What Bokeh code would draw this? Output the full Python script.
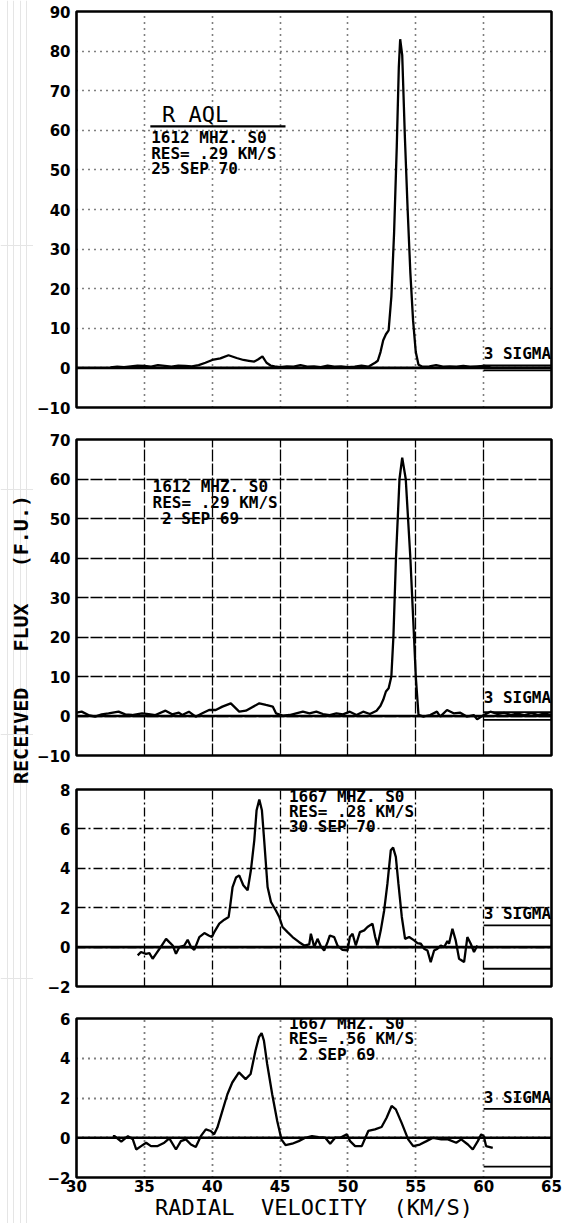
from math import pi
from bokeh.plotting import figure
from bokeh.layouts import row, column
from bokeh.models import Range1d, FixedTicker, Span, Label, Grid
from bokeh.embed import file_html
from bokeh.resources import INLINE

# ---------------- data ----------------
X_TICKS = [30, 35, 40, 45, 50, 55, 60, 65]
Y_TICKS_1 = [-10, 0, 10, 20, 30, 40, 50, 60, 70, 80, 90]
Y_TICKS_2 = [-10, 0, 10, 20, 30, 40, 50, 60, 70]
Y_TICKS_3 = [-2, 0, 2, 4, 6, 8]
Y_TICKS_4 = [-2, 0, 2, 4, 6]

# Panel 1: R AQL, 1612 MHz, 25 Sep 70
V1 = [32.5, 33.0, 33.5, 34.0, 34.5, 35.0, 35.5, 36.0, 36.5, 37.0, 37.5, 38.0, 38.5, 39.0,
      39.5, 40.0, 40.6, 41.2, 41.8, 42.3, 42.7, 43.1, 43.4, 43.7, 44.0, 44.3, 44.6, 45.0,
      45.5, 46.0, 46.5, 47.0, 47.5, 48.0, 48.5, 49.0, 49.5, 50.0, 50.5, 51.0, 51.5, 52.0,
      52.2, 52.4, 52.6, 52.8, 53.0, 53.2, 53.4, 53.6, 53.75, 53.85, 54.0, 54.2, 54.4, 54.6,
      54.8, 55.0, 55.2, 55.5, 56.0, 56.5, 57.0, 57.5, 58.0, 58.5, 59.0, 59.5, 60.0, 60.5]
F1 = [0.1, 0.3, 0.2, 0.4, 0.6, 0.5, 0.3, 0.7, 0.5, 0.3, 0.6, 0.5, 0.4, 0.7,
      1.3, 2.0, 2.4, 3.2, 2.5, 2.0, 1.8, 1.6, 2.2, 2.9, 1.3, 0.6, 0.4, 0.2,
      0.4, 0.3, 0.7, 0.3, 0.4, 0.2, 0.6, 0.3, 0.4, 0.2, 0.3, 0.6, 0.3, 1.3,
      1.8, 4.0, 7.0, 8.5, 9.5, 18.0, 34.0, 56.0, 76.0, 83.0, 79.0, 58.0, 40.0, 24.0,
      12.0, 4.0, 0.8, 0.3, 0.4, 0.7, 0.3, 0.4, 0.3, 0.5, 0.3, 0.4, 0.5, 0.3]

# Panel 2: 1612 MHz, 2 Sep 69
V2 = [30.0, 30.38, 30.88, 31.37, 31.86, 32.36, 33.1, 33.59, 34.09, 34.83, 35.32, 35.81,
      36.56, 37.05, 37.54, 37.79, 38.28, 38.78, 39.27, 39.77, 40.26, 40.75, 41.37, 41.99,
      42.48, 43.47, 43.96, 44.46, 44.7, 45.2, 45.7, 46.68, 47.17, 47.67, 48.16, 48.65,
      49.15, 49.64, 50.14, 50.63, 51.12, 51.62, 52.11, 52.4, 52.6, 52.8, 53.0, 53.2,
      53.35, 53.54, 53.8, 54.0, 54.26, 54.6, 54.87, 55.0, 55.2, 55.57, 56.06, 56.56,
      56.8, 57.3, 57.79, 58.28, 58.78, 59.27, 59.52, 60.01, 60.5, 61.0, 61.5, 62.0,
      62.5, 63.0, 63.5, 64.0, 64.5, 65.0]
F2 = [0.85, 1.1, 0.25, -0.17, 0.42, 0.68, 1.1, 0.42, 0.25, 0.68, 0.5, 0.25,
      1.35, 0.42, 0.85, 0.25, 1.1, -0.17, 0.68, 1.52, 1.52, 2.37, 3.2, 1.1,
      1.35, 3.2, 2.8, 2.4, 0.68, 0.08, 0.25, 1.1, 0.68, 1.1, 0.5, 0.25,
      0.68, 0.42, 1.1, 0.25, 1.1, 0.5, 1.35, 2.6, 4.1, 6.2, 7.0, 10.0,
      20.0, 40.0, 60.0, 65.4, 60.0, 40.0, 20.0, 10.0, 0.3, -0.17, 0.25, 1.1,
      -0.17, 1.52, 0.68, 0.85, -0.17, 0.25, -0.85, 0.25, 1.1, 0.5, 0.8, 0.3,
      0.6, 0.2, 0.7, 0.3, 0.6, 0.3]

# Panel 3: 1667 MHz, 30 Sep 70
V3 = [34.51, 34.75, 35.12, 35.37, 35.61, 35.86, 36.23, 36.60, 36.84,
      37.09, 37.33, 37.58, 37.94, 38.19, 38.44, 38.68, 39.05, 39.42, 39.74,
      39.98, 40.15, 40.52, 40.89, 41.21, 41.33, 41.50, 41.75, 41.99, 42.29,
      42.61, 42.85, 43.10, 43.27, 43.47, 43.66, 43.83, 44.08, 44.33, 44.69,
      44.94, 45.18, 45.55, 45.92, 46.41, 46.78, 47.15, 47.27, 47.52, 47.76,
      48.01, 48.25, 48.50, 48.67, 48.99, 49.23, 49.60, 49.97, 50.14, 50.34,
      50.58, 50.88, 51.20, 51.44, 51.81, 52.01, 52.18, 52.42, 52.67, 52.91,
      53.16, 53.33, 53.53, 53.72, 53.97, 54.21, 54.51, 54.88, 55.12, 55.37,
      55.61, 55.86, 56.10, 56.35, 56.60, 56.84, 57.09, 57.33, 57.45, 57.70,
      57.94, 58.19, 58.56, 58.80, 59.05, 59.29, 59.54]
F3 = [-0.42, -0.25, -0.34, -0.31, -0.59, -0.34, 0.03, 0.42, 0.25,
      0.08, -0.34, 0.0, 0.08, 0.37, 0.0, -0.14, 0.51, 0.71, 0.59,
      0.51, 0.76, 1.19, 1.39, 1.53, 2.12, 3.05, 3.53, 3.64, 3.14,
      2.88, 3.90, 5.42, 6.95, 7.49, 6.95, 5.42, 3.05, 2.29, 1.86,
      1.53, 1.02, 0.76, 0.51, 0.25, 0.08, 0.14, 0.68, 0.0, 0.42,
      0.03, -0.17, 0.25, 0.59, 0.51, 0.08, -0.14, -0.17, 0.51, 0.68,
      0.08, 0.76, 0.85, 1.02, 1.19, 0.51, 0.08, 0.85, 1.86, 3.22,
      4.92, 5.05, 4.58, 3.22, 1.53, 0.42, 0.51, 0.34, 0.2, 0.17,
      -0.08, -0.17, -0.76, -0.17, -0.08, 0.08, 0.0, 0.31, 0.17, 0.93,
      0.34, -0.59, -0.76, 0.51, 0.17, -0.25, 0.08]

# Panel 4: 1667 MHz, 2 Sep 69
V4 = [32.68, 32.81, 33.30, 33.79, 34.15, 34.40, 34.76, 35.13, 35.49, 35.98,
      36.47, 36.84, 37.33, 37.69, 38.06, 38.43, 38.79, 39.16, 39.53, 39.89,
      40.14, 40.38, 40.75, 41.12, 41.48, 41.97, 42.46, 42.83, 43.19, 43.44,
      43.64, 43.81, 44.05, 44.42, 44.79, 45.10, 45.40, 45.89, 46.37, 46.86,
      47.35, 47.84, 48.33, 48.69, 49.06, 49.43, 49.92, 50.16, 50.53, 51.02,
      51.50, 51.99, 52.48, 52.85, 53.22, 53.53, 53.95, 54.44, 54.81, 55.30,
      55.79, 56.27, 56.88, 57.37, 57.98, 58.35, 58.84, 59.20, 59.57, 59.82,
      60.01, 60.18, 60.67]
F4 = [0.08, 0.08, -0.20, 0.08, -0.08, -0.59, -0.42, -0.25, -0.42, -0.42,
      -0.25, -0.03, -0.59, -0.17, -0.08, -0.34, -0.47, 0.08, 0.42, 0.34,
      0.17, 0.51, 1.35, 2.19, 2.78, 3.29, 2.95, 3.21, 4.39, 5.06,
      5.27, 4.89, 3.71, 2.19, 0.84, -0.08, -0.37, -0.30, -0.17, 0.00,
      0.08, 0.03, 0.00, -0.30, 0.00, 0.00, 0.17, -0.17, -0.42, -0.42,
      0.34, 0.42, 0.54, 1.01, 1.60, 1.43, 0.76, -0.08, -0.42, -0.34,
      -0.17, 0.00, -0.08, -0.08, -0.25, -0.08, -0.34, -0.59, -0.17, 0.17,
      0.08, -0.42, -0.51]

# 3-sigma levels (F.U.) and the velocity where the sigma box starts
SIGMA = [0.6, 1.0, 1.1, 1.45]
SIGMA_FROM = 60

NOTES_1 = ["1612 MHZ. S0", "RES= .29 KM/S", "25 SEP 70"]
NOTES_2 = ["1612 MHZ. S0", "RES= .29 KM/S", "2 SEP 69"]
NOTES_3 = ["1667 MHZ. S0", "RES= .28 KM/S", "30 SEP 70"]
NOTES_4 = ["1667 MHZ. S0", "RES= .56 KM/S", "2 SEP 69"]
STAR = "R AQL"
X_LABEL = "RADIAL\u00a0 VELOCITY\u00a0 (KM/S)"
Y_LABEL = "RECEIVED\u00a0\u00a0 FLUX\u00a0\u00a0 (F.U.)"

for a, b in [(V1, F1), (V2, F2), (V3, F3), (V4, F4)]:
    assert len(a) == len(b)

# ---------------- layout ----------------
XR = Range1d(30, 65)
LAB_W = 33
BORDER_L = 43
PANEL_W = BORDER_L + 475 + 14
MONO = "DejaVu Sans Mono"


def make_panel(h, yr, yticks, bt, bb, dash, gw, show_x=False):
    p = figure(width=PANEL_W, height=h, x_range=XR, y_range=Range1d(*yr),
               output_backend="svg", toolbar_location=None,
               x_axis_location="below" if show_x else None,
               min_border_left=BORDER_L, min_border_right=14,
               min_border_top=bt, min_border_bottom=bb)
    p.background_fill_color = "white"
    p.border_fill_color = "white"
    p.outline_line_color = "black"
    p.outline_line_width = 2.6
    p.grid.visible = False
    p.add_layout(Grid(dimension=0, ticker=FixedTicker(ticks=X_TICKS[1:-1]),
                      grid_line_color="black", grid_line_dash=dash, grid_line_width=gw))
    p.add_layout(Grid(dimension=1, ticker=FixedTicker(ticks=yticks[1:-1]),
                      grid_line_color="black", grid_line_dash=dash, grid_line_width=gw))
    axes = list(p.yaxis) + (list(p.xaxis) if show_x else [])
    for ax in axes:
        ax.major_label_text_font = "DejaVu Sans"
        ax.major_label_text_font_style = "bold"
        ax.major_label_text_font_size = "15px"
        ax.major_label_text_color = "black"
        ax.major_tick_out = 0
        ax.major_tick_in = 0
        ax.minor_tick_out = 0
        ax.minor_tick_in = 0
        ax.axis_line_color = None
    p.yaxis.ticker = FixedTicker(ticks=yticks)
    p.yaxis.major_label_standoff = 6
    if show_x:
        p.xaxis.ticker = FixedTicker(ticks=X_TICKS)
        p.xaxis.major_label_standoff = 2
        p.xaxis.axis_label = X_LABEL
        p.xaxis.axis_label_standoff = 0
        p.xaxis.axis_label_text_font = MONO
        p.xaxis.axis_label_text_font_style = "normal"
        p.xaxis.axis_label_text_font_size = "22px"
        p.xaxis.axis_label_text_color = "black"
    p.add_layout(Span(location=0, dimension="width", line_color="black", line_width=2.6))
    return p


def add_notes(p, lines, x, y0, dy, indent=0.0, size="16px"):
    for i, t in enumerate(lines):
        xx = x + (indent if i == 2 else 0.0)
        p.add_layout(Label(x=xx, y=y0 - i * dy, text=t, text_font=MONO,
                           text_font_style="bold", text_font_size=size,
                           text_align="left", text_baseline="middle",
                           text_color="black"))


def add_sigma(p, s, ylab):
    p.segment(x0=[SIGMA_FROM, SIGMA_FROM], y0=[s, -s], x1=[XR.end, XR.end], y1=[s, -s],
              line_color="black", line_width=1.8)
    p.add_layout(Label(x=SIGMA_FROM, y=ylab, text="3 SIGMA", text_font=MONO,
                       text_font_style="bold", text_font_size="16px",
                       text_align="left", text_baseline="middle", text_color="black"))


p1 = make_panel(423, (-10, 90), Y_TICKS_1, 11, 16, "1 5", 1.6)
p1.line(V1, F1, line_color="black", line_width=2.3)
add_sigma(p1, SIGMA[0], 3.7)
p1.add_layout(Label(x=36.3, y=63.9, text=STAR, text_font=MONO, text_font_size="22px",
                    text_align="left", text_baseline="middle", text_color="black"))
p1.segment(x0=[35.44], y0=[61.0], x1=[45.4], y1=[61.0], line_color="black", line_width=2.2)
add_notes(p1, NOTES_1, 35.5, 58.1, 3.9)

p2 = make_panel(349, (-10, 70), Y_TICKS_2, 16, 17, "12 2", 1.3)
p2.line(V2, F2, line_color="black", line_width=2.3)
add_sigma(p2, SIGMA[1], 4.7)
add_notes(p2, NOTES_2, 35.6, 58.1, 4.0, indent=0.7)

p3 = make_panel(230, (-2, 8), Y_TICKS_3, 17, 16, "9 3 2 3", 1.3)
p3.line(V3, F3, line_color="black", line_width=2.3)
add_sigma(p3, SIGMA[2], 1.71)
add_notes(p3, NOTES_3, 45.65, 7.66, 0.76)

p4 = make_panel(221, (-2, 6), Y_TICKS_4, 16, 46, "1 5", 1.8, show_x=True)
p4.line(V4, F4, line_color="black", line_width=2.3)
add_sigma(p4, SIGMA[3], 2.02)
add_notes(p4, NOTES_4, 45.65, 5.77, 0.8, indent=0.7)

TOTAL_H = 423 + 349 + 230 + 221
lab = figure(width=LAB_W, height=TOTAL_H, x_range=Range1d(0, 1), y_range=Range1d(0, 1),
             output_backend="svg", toolbar_location=None,
             x_axis_location=None, y_axis_location=None, min_border=0)
lab.outline_line_color = None
lab.background_fill_color = "white"
lab.border_fill_color = "white"
lab.add_layout(Label(x=20 / LAB_W, y=(TOTAL_H - 639) / TOTAL_H, angle=pi / 2,
                     text=Y_LABEL, text_font=MONO,
                     text_font_style="bold", text_font_size="20px",
                     text_align="center", text_baseline="middle", text_color="black"))

layout = row(lab, column(p1, p2, p3, p4))
open("out.html", "w").write(file_html(layout, INLINE))
